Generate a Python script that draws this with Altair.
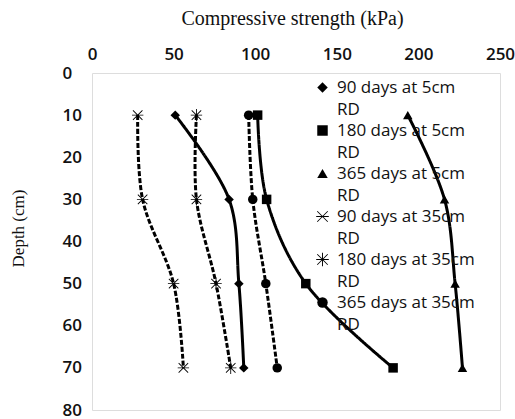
import altair as alt
import pandas as pd

# Depth of each measurement (cm)
depths = [10, 30, 50, 70]

# Series names (legend order) and their compressive strength values (kPa)
series = [
    "90 days at 5cm RD",
    "180 days at 5cm RD",
    "365 days at 5cm RD",
    "90 days at 35cm RD",
    "180 days at 35cm RD",
    "365 days at 35cm RD",
]
strength_90d_5cm = [51, 84, 90, 93]
strength_180d_5cm = [101.5, 107, 131, 184.5]
strength_365d_5cm = [193.5, 216, 222.5, 227]
strength_90d_35cm = [28, 31, 50, 56]
strength_180d_35cm = [64, 64, 76, 85]
strength_365d_35cm = [96, 98.5, 106.5, 113.5]

values = [strength_90d_5cm, strength_180d_5cm, strength_365d_5cm,
          strength_90d_35cm, strength_180d_35cm, strength_365d_35cm]

x_ticks = [0, 50, 100, 150, 200, 250]
y_ticks = [0, 10, 20, 30, 40, 50, 60, 70, 80]

rows = []
for name, vals in zip(series, values):
    for d, v in zip(depths, vals):
        rows.append({"series": name, "depth": d, "strength": v,
                     "group": "5cm" if " 5cm" in name else "35cm"})
df = pd.DataFrame(rows)

# Thin filled bars that build the cross / asterisk markers
BAR_H = "M-1.2,0.09L1.2,0.09L1.2,-0.09L-1.2,-0.09Z"
BAR_V = "M-0.09,-1.3L-0.09,1.3L0.09,1.3L0.09,-1.3Z"
BAR_D1 = "M-1.06,-0.94L0.94,1.06L1.06,0.94L-0.94,-1.06Z"
BAR_D2 = "M-0.94,1.06L1.06,-0.94L0.94,-1.06L-1.06,0.94Z"

# Marker shapes: solid symbols for 5cm, cross/asterisk for 35cm
shapes = [
    "diamond",
    "square",
    "triangle-up",
    BAR_D1 + BAR_D2 + BAR_H,
    BAR_D1 + BAR_D2 + BAR_H + BAR_V,
    "circle",
]

label_font = "Open Sans"

x_enc = alt.X(
    "strength:Q",
    scale=alt.Scale(domain=[0, 250], nice=False, zero=False),
    axis=alt.Axis(
        orient="top", values=x_ticks, title="Compressive strength (kPa)",
        domain=False, ticks=False, tickSize=0, grid=False,
        labelFont=label_font, labelFontSize=17, labelFontWeight=600,
        labelColor="#111111", labelPadding=10, labelFlush=False,
        labelOverlap=False, labelBound=False,
        titleFont="Liberation Serif", titleFontSize=20, titleFontWeight="normal",
        titleColor="#111111", titleX=200, titleY=-55, titleBaseline="middle",
        titleAnchor="middle",
    ),
)
y_enc = alt.Y(
    "depth:Q",
    scale=alt.Scale(domain=[0, 80], reverse=True, nice=False, zero=False),
    axis=alt.Axis(
        values=y_ticks, title="Depth (cm)",
        domain=False, ticks=False, tickSize=0, grid=False,
        labelFont=label_font, labelFontSize=17, labelFontWeight=600,
        labelColor="#111111", labelAlign="left", labelPadding=30,
        labelOverlap=False, labelBound=False, labelFlush=False,
        titleFont="Liberation Serif", titleFontSize=17, titleFontWeight="normal",
        titleColor="#111111", titleX=-74, titleY=155, titleBaseline="middle",
        titleAngle=-90, titleAnchor="middle",
    ),
)

lines = alt.Chart(df).mark_line(
    color="black", strokeWidth=3, interpolate="catmull-rom"
).encode(
    x=x_enc,
    y=y_enc,
    order="depth:Q",
    detail="series:N",
    strokeDash=alt.StrokeDash(
        "group:N",
        scale=alt.Scale(domain=["5cm", "35cm"], range=[[1, 0], [5, 2]]),
        legend=None,
    ),
)

points = alt.Chart(df).mark_point(
    filled=True, color="black", opacity=1, size=90
).encode(
    x=x_enc,
    y=y_enc,
    shape=alt.Shape(
        "series:N",
        scale=alt.Scale(domain=series, range=shapes),
        legend=alt.Legend(
            title=None, orient="none", legendX=222, legendY=6,
            labelExpr="[replace(datum.label, ' RD', ''), 'RD']",
            labelFont=label_font, labelFontSize=17, labelColor="#111111",
            labelLimit=250, labelOffset=6, rowPadding=3, padding=0,
            symbolSize=110, symbolFillColor="black", symbolStrokeColor="black",
            symbolStrokeWidth=0, symbolOpacity=1,
        ),
    ),
)

chart = alt.layer(lines, points).properties(
    width=408,
    height=337,
    padding={"left": 92, "top": 73, "right": 15, "bottom": 9},
    autosize=alt.AutoSizeParams(type="none"),
).configure_view(
    stroke="#3a3a3a", strokeWidth=1.5
).configure(
    background="white",
    # two-line legend labels need a taller line spacing
    style={"guide-label": {"lineHeight": 22}},
)

chart.save("out.html", embed_options={"renderer": "svg", "actions": False})
